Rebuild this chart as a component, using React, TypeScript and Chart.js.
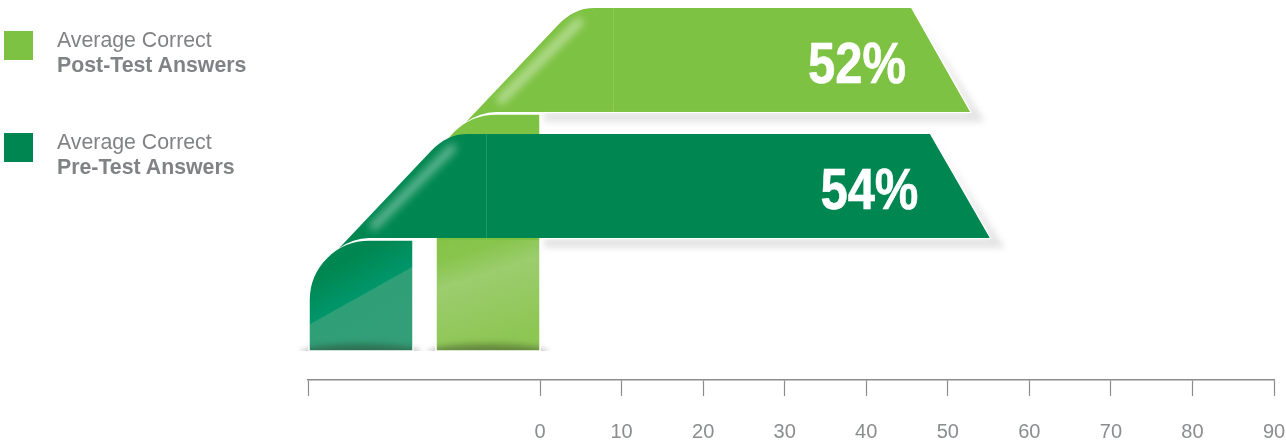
import React, { useEffect, useRef } from "react";
import { Chart, registerables } from "chart.js";

Chart.register(...registerables);

const seriesNames = ["Post-Test Answers", "Pre-Test Answers"];
const legendLead = "Average Correct";
const rows = [0, 1];
const postValues = [52, null];
const preValues = [null, 54];
const tickValues = [0, 10, 20, 30, 40, 50, 60, 70, 80, 90];
const axisMin = -28.45;
const axisMax = 90;

const POST = "#7dc242";
const PRE = "#008751";
const GREY = "#8a8c8e";
const FONT = '"Liberation Sans", Arial, sans-serif';

// styling of the ribbon shapes, in pixels
const tipPad = [6, 9.5];
const topInset = [59, 60];
const labelInset = [58, 62];

function ribbonPath(ctx: CanvasRenderingContext2D, colL: number, top: number, bottom: number, topRight: number, tip: number) {
  const cx = colL + 60;
  const cy = bottom + 2 + 60;
  const seam = colL + 104 + 73;
  const tipX = seam - 147;
  const tipY = cy - Math.sqrt(3600 - (cx - tipX) * (cx - tipX));
  ctx.beginPath();
  ctx.moveTo(tip, bottom);
  ctx.lineTo(topRight, top);
  ctx.lineTo(seam - 18, top);
  ctx.bezierCurveTo(seam - 34, top, seam - 44, top + 6, seam - 55, top + 17);
  ctx.lineTo(tipX, tipY);
  ctx.quadraticCurveTo(cx - 16, bottom + 0.5, cx, bottom);
  ctx.closePath();
}

function columnPath(ctx: CanvasRenderingContext2D, colL: number, colR: number, top: number, floor: number) {
  ctx.beginPath();
  ctx.moveTo(colL, floor);
  ctx.lineTo(colL, top + 60);
  ctx.arc(colL + 60, top + 60, 60, Math.PI, Math.PI * 1.5);
  ctx.lineTo(colR, top);
  ctx.lineTo(colR, floor);
  ctx.closePath();
}

const ribbonPlugin = {
  id: "ribbons",
  beforeDatasetDraw() {
    return false;
  },
  beforeDatasetsDraw(chart: any) {
    const ctx: CanvasRenderingContext2D = chart.ctx;
    const xs = chart.scales.x;
    const post = chart.getDatasetMeta(0).data[0];
    const pre = chart.getDatasetMeta(1).data[1];
    const bars = [post, pre];
    const floor = xs.top - 29;
    const colR = [xs.getPixelForValue(0), xs.left + 105];
    const colL = [colR[0] - 104, xs.left + 1];
    const colours = [POST, PRE];
    const geo = bars.map((b: any, i: number) => {
      const tip = b.x + tipPad[i];
      return { top: b.y - b.height / 2, bottom: b.y + b.height / 2, tip, topRight: tip - topInset[i] };
    });

    ctx.save();
    geo.forEach((g: any) => {
      ctx.save();
      ctx.filter = "blur(3px)";
      ctx.fillStyle = "rgba(120,120,120,0.2)";
      ctx.beginPath();
      ctx.moveTo(g.topRight + 9, g.top + 12);
      ctx.lineTo(g.tip + 15, g.bottom + 10);
      ctx.lineTo(colR[0] + 4, g.bottom + 10);
      ctx.lineTo(colR[0] + 4, g.bottom);
      ctx.lineTo(g.tip, g.bottom);
      ctx.closePath();
      ctx.fill();
      ctx.restore();
    });

    ctx.save();
    ctx.beginPath();
    ctx.rect(0, 0, chart.width, floor);
    ctx.clip();
    ctx.filter = "blur(3px)";
    ctx.fillStyle = "rgba(60,60,60,0.4)";
    [0, 1].forEach((i) => {
      ctx.beginPath();
      ctx.ellipse((colL[i] + colR[i]) / 2, floor + 1, 60, 6, 0, 0, Math.PI * 2);
      ctx.fill();
    });
    ctx.restore();

    [0, 1].forEach((i) => {
      const g = geo[i];
      const top = g.bottom + 2;
      ctx.save();
      columnPath(ctx, colL[i], colR[i], top, floor);
      ctx.fillStyle = colours[i];
      ctx.fill();
      ctx.clip();
      const lowTop = geo[1].bottom + 2;
      if (i === 0) {
        const grad = ctx.createLinearGradient(colL[i] - 13, lowTop + 3, colL[i] + 23, lowTop + 113);
        grad.addColorStop(0, "#85c348");
        grad.addColorStop(0.2, "#88c54d");
        grad.addColorStop(0.42, "#9ccd6e");
        grad.addColorStop(1, "#8ec654");
        ctx.fillStyle = grad;
        ctx.fillRect(colL[i], lowTop, colR[i] - colL[i], floor - lowTop);
      } else {
        const grad = ctx.createLinearGradient(colL[i] - 47, top + 2, colL[i] + 23, top + 127);
        grad.addColorStop(0, "#008751");
        grad.addColorStop(0.4, "#008751");
        grad.addColorStop(0.66, "#00966a");
        grad.addColorStop(0.668, "#2f9f78");
        grad.addColorStop(1, "#339f79");
        ctx.fillStyle = grad;
        ctx.fillRect(colL[i], top, colR[i] - colL[i], floor - top);
      }
      ctx.filter = "blur(3px)";
      ctx.fillStyle = "rgba(40,50,30,0.42)";
      ctx.beginPath();
      ctx.ellipse((colL[i] + colR[i]) / 2, floor + 2, 64, 9, 0, 0, Math.PI * 2);
      ctx.fill();
      ctx.restore();
      ctx.strokeStyle = "#ffffff";
      ctx.lineWidth = 1.5;
      columnPath(ctx, colL[i], colR[i], top, floor);
      ctx.stroke();
    });

    [0, 1].forEach((i) => {
      const g = geo[i];
      ctx.save();
      ribbonPath(ctx, colL[i], g.top, g.bottom, g.topRight, g.tip);
      ctx.fillStyle = colours[i];
      ctx.fill();
      ctx.save();
      ctx.clip();
      const seam = colL[i] + 104 + 73;
      ctx.strokeStyle = "rgba(255,255,255,0.13)";
      ctx.lineWidth = 1;
      ctx.beginPath();
      ctx.moveTo(seam + 0.5, g.top);
      ctx.lineTo(seam + 0.5, g.bottom);
      ctx.stroke();
      ctx.filter = "blur(4px)";
      ctx.strokeStyle = i === 0 ? "rgba(255,255,255,0.5)" : "rgba(255,255,255,0.42)";
      ctx.lineWidth = 8;
      ctx.lineCap = "round";
      ctx.beginPath();
      ctx.moveTo(seam - 112, g.top + 92);
      ctx.lineTo(seam - 34, g.top + 14);
      ctx.stroke();
      ctx.restore();
      ctx.strokeStyle = "#ffffff";
      ctx.lineWidth = 1;
      ctx.beginPath();
      ctx.moveTo(g.topRight + 1, g.top);
      ctx.lineTo(g.tip + 1, g.bottom + 0.5);
      ctx.lineTo(colR[0] + 0.5, g.bottom + 0.5);
      ctx.stroke();
      ctx.restore();
    });
    ctx.restore();

    const values = [postValues[0], preValues[1]];
    ctx.save();
    ctx.fillStyle = "#ffffff";
    ctx.strokeStyle = "#ffffff";
    ctx.lineWidth = 0.6;
    ctx.textAlign = "right";
    ctx.textBaseline = "alphabetic";
    ctx.font = `bold 57px "Liberation Sans Narrow", ${FONT}`;
    bars.forEach((b: any, i: number) => {
      ctx.fillText(`${values[i]}%`, b.x - labelInset[i], b.y + 23, 98);
      ctx.strokeText(`${values[i]}%`, b.x - labelInset[i], b.y + 23, 98);
    });
    ctx.restore();
  },
};

export default function App() {
  const ref = useRef<HTMLCanvasElement | null>(null);

  useEffect(() => {
    document.body.style.margin = "0";
    const chart = new Chart(ref.current as HTMLCanvasElement, {
      type: "bar",
      data: {
        datasets: [
          {
            label: seriesNames[0],
            data: rows.map((y, i) => ({ x: postValues[i], y })),
            backgroundColor: POST,
            grouped: false,
            barThickness: 104,
          },
          {
            label: seriesNames[1],
            data: rows.map((y, i) => ({ x: preValues[i], y })),
            backgroundColor: PRE,
            grouped: false,
            barThickness: 104,
          },
        ],
      } as any,
      options: {
        indexAxis: "y",
        animation: false,
        responsive: false,
        devicePixelRatio: 1,
        layout: { padding: { left: 308, right: 12, top: 0, bottom: 0 } },
        plugins: { legend: { display: false }, tooltip: { enabled: false } },
        scales: {
          y: {
            type: "linear",
            bounds: "data",
            reverse: true,
            min: -32.8 / 126,
            max: 292.6 / 126,
            display: false,
          },
          x: {
            type: "linear",
            position: "bottom",
            min: axisMin,
            max: axisMax,
            afterBuildTicks: (s: any) => {
              s.ticks = [axisMin, ...tickValues].map((value) => ({ value }));
            },
            afterFit: (s: any) => {
              s.height = 61;
              s.paddingLeft = 0;
              s.paddingRight = 0;
            },
            border: { display: true, color: GREY, width: 1.4 },
            grid: { drawOnChartArea: false, drawTicks: true, tickLength: 16, color: GREY, tickWidth: 1.2 },
            ticks: {
              autoSkip: false,
              maxRotation: 0,
              padding: 24,
              color: GREY,
              font: { family: FONT, size: 20 },
              callback: (v: any) => (tickValues.includes(v) ? String(v) : ""),
            },
          },
        },
      } as any,
      plugins: [ribbonPlugin as any],
    });
    return () => chart.destroy();
  }, []);

  const legendTops = [28, 130];
  const legendColours = [POST, PRE];
  return (
    <div style={{ position: "relative", width: 1286, height: 441, overflow: "hidden", background: "#fff" }}>
      <canvas ref={ref} width={1286} height={441} style={{ position: "absolute", left: 0, top: 0 }} />
      {seriesNames.map((name, i) => (
        <div key={name}>
          <div
            style={{
              position: "absolute",
              left: 4,
              top: legendTops[i] + 3,
              width: 29,
              height: 29,
              background: legendColours[i],
            }}
          />
          <div
            style={{
              position: "absolute",
              left: 57,
              top: legendTops[i],
              font: `21.3px/25px ${FONT}`,
              color: "#808285",
              whiteSpace: "nowrap",
            }}
          >
            <div>{legendLead}</div>
            <div style={{ fontWeight: 700 }}>{name}</div>
          </div>
        </div>
      ))}
    </div>
  );
}
